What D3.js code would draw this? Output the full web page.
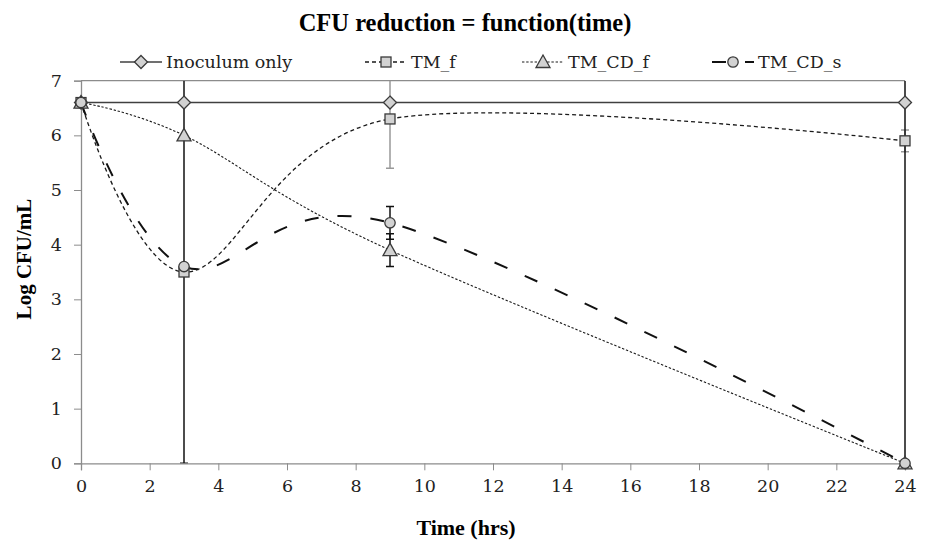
<!DOCTYPE html>
<html><head><meta charset="utf-8">
<script src="https://cdn.jsdelivr.net/npm/d3@7/dist/d3.min.js"></script>
<style>body{margin:0;background:#fff}svg{display:block}</style>
</head><body><svg id="c" width="930" height="546"></svg>
<script>
const times = [0, 3, 9, 24];
const seriesNames = ["Inoculum only", "TM_f", "TM_CD_f", "TM_CD_s"];
const inoculumOnly = [6.6, 6.6, 6.6, 6.6];
const tmF = [6.6, 3.5, 6.3, 5.9];
const tmCDf = [6.6, 6.0, 3.9, 0];
const tmCDs = [6.6, 3.6, 4.4, 0];
const errInoculum = [0, 0, 0, 0];
const errTmF = [0, 0, 0.9, 0.2];
const errTmCDf = [0, 6.0, 0.3, 0];
const errTmCDs = [0, 0, 0.3, 7.5];
const xTicks = [0, 2, 4, 6, 8, 10, 12, 14, 16, 18, 20, 22, 24];
const yTicks = [0, 1, 2, 3, 4, 5, 6, 7];

const svg = d3.select("#c");
const L = 81, R = 905, T = 80.7, B = 463.3;
const x = d3.scaleLinear().domain([0, 24]).range([L, R]);
const y = d3.scaleLinear().domain([0, 7]).range([B, T]);
const titleFont = "'Liberation Serif', Tinos, 'Times New Roman', serif";
const font = "'DejaVu Serif', serif";

const series = [
  {name: seriesNames[0], vals: inoculumOnly, err: errInoculum, marker: "diamond", stroke: "#404040", width: 1.5, dash: null, smooth: false, errColor: "#404040", legX: 120},
  {name: seriesNames[1], vals: tmF, err: errTmF, marker: "square", stroke: "#1a1a1a", width: 1.3, dash: "4,3", smooth: true, errColor: "#999", legX: 365},
  {name: seriesNames[2], vals: tmCDf, err: errTmCDf, marker: "triangle", stroke: "#1a1a1a", width: 1.1, dash: "2.4,1.8", smooth: true, errColor: "#111", legX: 522},
  {name: seriesNames[3], vals: tmCDs, err: errTmCDs, marker: "circle", stroke: "#111", width: 2, dash: "14,19", smooth: true, errColor: "#111", legX: 712}
];

svg.append("text").attr("x", 465).attr("y", 31).attr("text-anchor", "middle")
  .style("font-family", titleFont).attr("font-weight", "bold").attr("font-size", 24.5).text("CFU reduction = function(time)");

svg.append("line").attr("x1", L).attr("x2", R).attr("y1", T).attr("y2", T).attr("stroke", "#8c8c8c").attr("stroke-width", 1.3);

const gx = svg.append("g").attr("transform", `translate(0,${B})`)
  .call(d3.axisBottom(x).tickValues(xTicks).tickSize(7).tickPadding(7).tickFormat(d3.format("d")));
const gy = svg.append("g").attr("transform", `translate(${L},0)`)
  .call(d3.axisLeft(y).tickValues(yTicks).tickSize(7).tickPadding(12).tickFormat(d3.format("d")));
[gx, gy].forEach(g => {
  g.select(".domain").attr("stroke", "#8c8c8c").attr("stroke-width", 1.3);
  g.selectAll(".tick line").attr("stroke", "#8c8c8c").attr("stroke-width", 1);
  g.selectAll(".tick text").style("font-family", font).attr("font-size", 17.5).attr("fill", "#222");
});
gx.selectAll(".tick text").attr("dy", "0.85em");

svg.append("text").attr("x", 466).attr("y", 535).attr("text-anchor", "middle")
  .style("font-family", titleFont).attr("font-weight", "bold").attr("font-size", 22).text("Time (hrs)");
svg.append("text").attr("transform", "translate(31,259) rotate(-90)").attr("text-anchor", "middle")
  .style("font-family", titleFont).attr("font-weight", "bold").attr("font-size", 21).text("Log CFU/mL");

svg.append("clipPath").attr("id", "pc").append("rect")
  .attr("x", L - 10).attr("y", T).attr("width", R - L + 20).attr("height", B - T);

series.forEach(s => {
  const pts = times.map((t, i) => [t, s.vals[i]]);
  const line = d3.line().x(d => x(d[0])).y(d => y(d[1]))
    .curve(s.smooth ? d3.curveCardinal.tension(0) : d3.curveLinear);
  svg.append("path").attr("d", line(pts)).attr("fill", "none")
    .attr("stroke", s.stroke).attr("stroke-width", s.width)
    .attr("stroke-dasharray", s.dash);
});

series.forEach(s => {
  const g = svg.append("g").attr("clip-path", "url(#pc)");
  times.forEach((t, i) => {
    const e = s.err[i];
    if (!e) return;
    const lo = Math.max(0, s.vals[i] - e), hi = Math.min(7, s.vals[i] + e);
    g.append("line").attr("x1", x(t)).attr("x2", x(t)).attr("y1", y(lo)).attr("y2", y(hi))
      .attr("stroke", s.errColor).attr("stroke-width", 1.5);
    [s.vals[i] - e, s.vals[i] + e].forEach(v => {
      if (v >= 0 && v <= 7) g.append("line").attr("x1", x(t) - 4).attr("x2", x(t) + 4)
        .attr("y1", y(v)).attr("y2", y(v)).attr("stroke", s.errColor).attr("stroke-width", 1.5);
    });
  });
});

function drawMarker(g, type, cx, cy) {
  let el;
  if (type === "diamond") el = g.append("path").attr("d", `M${cx},${cy-6.5}L${cx+6.5},${cy}L${cx},${cy+6.5}L${cx-6.5},${cy}Z`);
  else if (type === "square") el = g.append("rect").attr("x", cx - 5).attr("y", cy - 5).attr("width", 10).attr("height", 10);
  else if (type === "triangle") el = g.append("path").attr("d", `M${cx},${cy-7}L${cx+7},${cy+5.5}L${cx-7},${cy+5.5}Z`);
  else el = g.append("circle").attr("cx", cx).attr("cy", cy).attr("r", 5.2);
  el.attr("fill", "#d2d2d2").attr("stroke", "#3a3a3a").attr("stroke-width", 1.3);
}

series.forEach(s => {
  const g = svg.append("g");
  times.forEach((t, i) => drawMarker(g, s.marker, x(t), y(s.vals[i])));
});

const ly = 62;
series.forEach(s => {
  const g = svg.append("g");
  g.append("line").attr("x1", s.legX).attr("x2", s.legX + 42).attr("y1", ly).attr("y2", ly)
    .attr("stroke", s.stroke).attr("stroke-width", s.width).attr("stroke-dasharray", s.dash);
  drawMarker(g, s.marker, s.legX + 21, ly);
  g.append("text").attr("x", s.legX + 46).attr("y", ly + 6).style("font-family", font)
    .attr("font-size", 17.5).attr("fill", "#222").text(s.name);
});
</script></body></html>
